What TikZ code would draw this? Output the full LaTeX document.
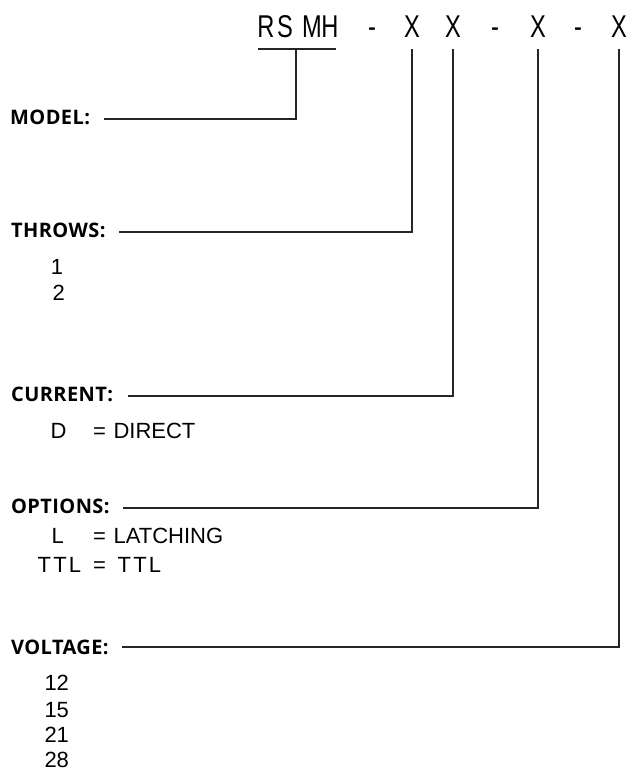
\documentclass[tikz,border=0pt]{standalone}
\usepackage{fontspec}
\setmainfont{Liberation Sans}
\newfontfamily\lblfont[LetterSpace=2]{Open Sans}
\newfontfamily\spacedfont[LetterSpace=10]{Liberation Sans}
\newcommand\codeglyph[1]{\scalebox{0.75}[1]{#1}}
\tikzset{
  lbl/.style={anchor=west,inner sep=0pt,font=\lblfont\bfseries\fontsize{20}{22}\selectfont},
  item/.style={anchor=base west,inner sep=0pt,font=\fontsize{22}{24}\selectfont},
  spaceditem/.style={item,font=\spacedfont\fontsize{22}{24}\selectfont},
  code/.style={anchor=base,inner sep=0pt,font=\fontsize{31.5}{33}\selectfont},
  wire/.style={line width=1.2pt,draw=black!85}
}
\begin{document}
\begin{tikzpicture}[x=1pt,y=-1pt]
\useasboundingbox (0,0) rectangle (637,777);
% code line
\node[code] (cR) at (266,37) {\codeglyph{R}};
\node[code] (cS) at (285,37) {\codeglyph{S}};
\node[code] (cM) at (312,37) {\codeglyph{M}};
\node[code] (cH) at (330,37) {\codeglyph{H}};
\node[code] (d1) at (372,37) {\codeglyph{-}};
\node[code] (x1) at (412,37) {\codeglyph{X}};
\node[code] (x2) at (453,37) {\codeglyph{X}};
\node[code] (d2) at (495,37) {\codeglyph{-}};
\node[code] (x3) at (538,37) {\codeglyph{X}};
\node[code] (d3) at (578,37) {\codeglyph{-}};
\node[code] (x4) at (619,37) {\codeglyph{X}};
% labels
\node[lbl] (model) at (10,117.5) {MODEL:};
\node[lbl] (throws) at (11,230) {THROWS:};
\node[lbl] (current) at (11,394) {CURRENT:};
\node[lbl] (options) at (11,506) {OPTIONS:};
\node[lbl] (voltage) at (11,647) {VOLTAGE:};
% items
\node[item] (t1) at (50.6,274) {1};
\node[item] (t2) at (52.3,300) {2};
\node[item] (cD) at (50.3,438) {D};
\node[item] (cDeq) at (93,438) {=};
\node[item] (cDtx) at (113.3,438) {DIRECT};
\node[item] (oL) at (51.4,543) {L};
\node[item] (oLeq) at (93,543) {=};
\node[item] (oLtx) at (113.4,543) {LATCHING};
\node[spaceditem] (oT) at (37.5,572) {TTL};
\node[item] (oTeq) at (93,572) {=};
\node[spaceditem] (oTtx) at (117.5,572) {TTL};
\node[item] (v12) at (44.3,690) {12};
\node[item] (v15) at (44.3,717) {15};
\node[item] (v21) at (44.3,742) {21};
\node[item] (v28) at (44.3,767) {28};
% connectors
\coordinate (ulL) at (258,49);
\coordinate (ulR) at (336,49);
\coordinate (mj) at (296,49);
\coordinate (ml) at (104,119);
\coordinate (tl) at (119,232);
\coordinate (cl) at (128,396);
\coordinate (ol) at (123,508);
\coordinate (vl) at (122,647);
\draw[wire] (ulL) -- (ulR);
\draw[wire] (mj) |- (ml);
\draw[wire] (x1.south |- mj) |- (tl);
\draw[wire] (x2.south |- mj) |- (cl);
\draw[wire] (x3.south |- mj) |- (ol);
\draw[wire] (x4.south |- mj) |- (vl);
\end{tikzpicture}
\end{document}
